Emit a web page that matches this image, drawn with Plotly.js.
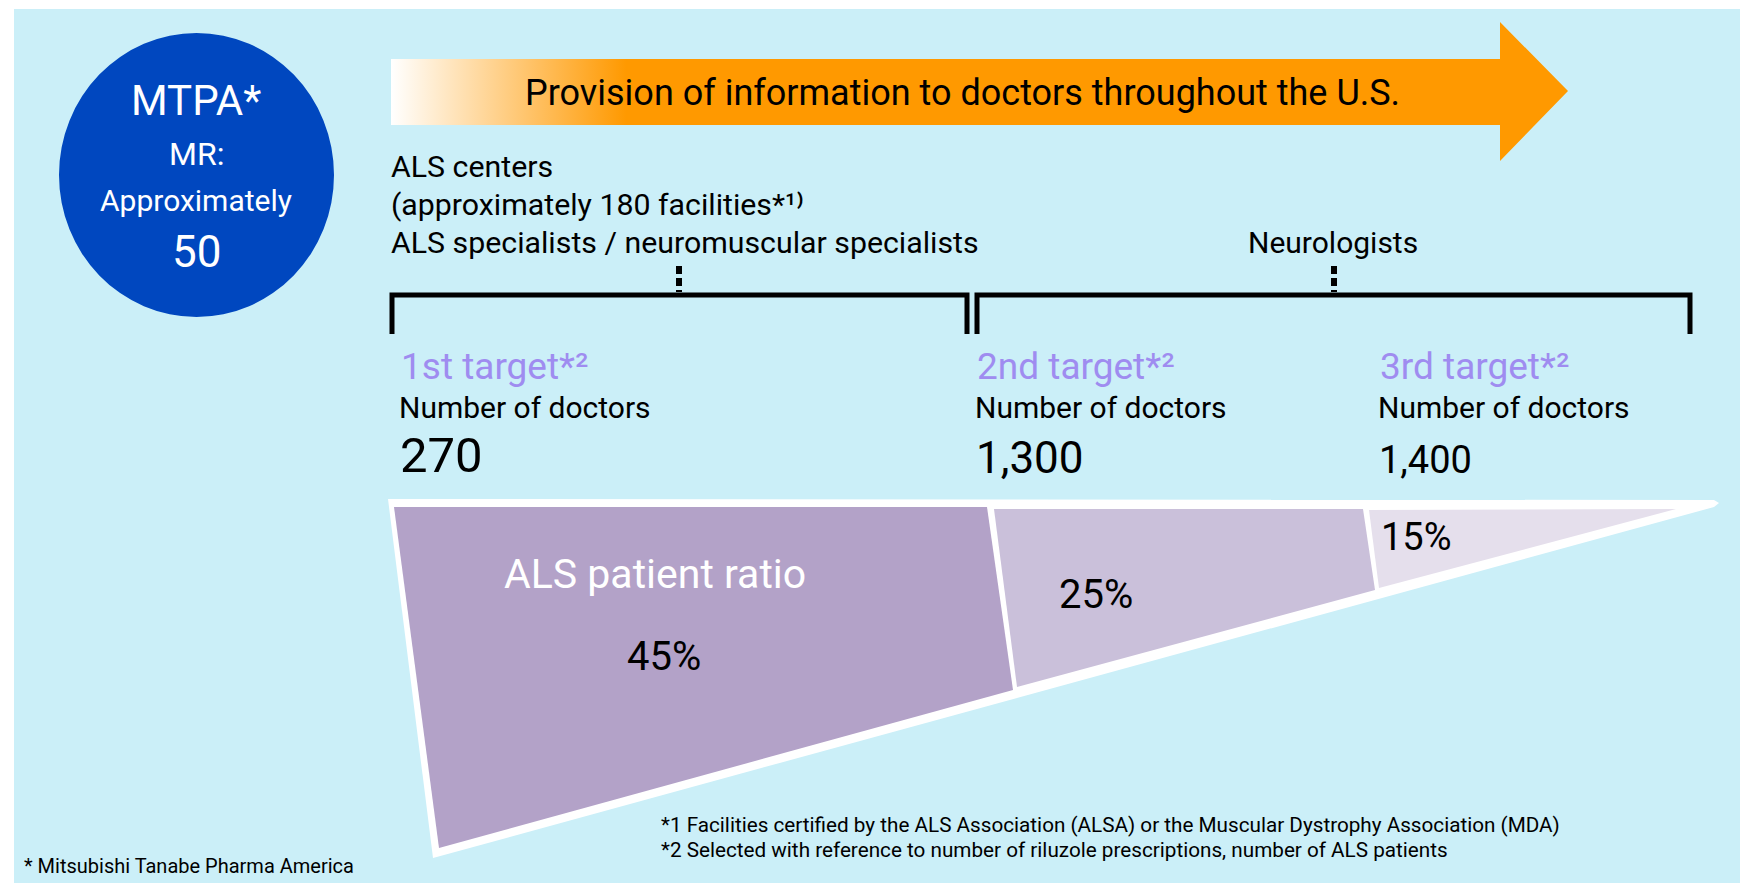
<!DOCTYPE html>
<html>
<head>
<meta charset="utf-8">
<script src="https://cdn.plot.ly/plotly-3.0.1.min.js"></script>
<style>html,body{margin:0;padding:0;background:#fff;}#chart{width:1740px;height:883px;}</style>
</head>
<body>
<div id="chart"></div>
<script>
// ---------------- data ----------------
const orgName = 'MTPA*';
const orgLines = ['MR:', 'Approximately'];
const mrCount = '50';
const arrowText = 'Provision of information to doctors throughout the U.S.';
const groupLeftLines = ['ALS centers', '(approximately 180 facilities*¹⁾', 'ALS specialists / neuromuscular specialists'];
const groupRightLabel = 'Neurologists';
const targets = ['1st target', '2nd target', '3rd target'];
const doctorLabel = 'Number of doctors';
const doctorCounts = ['270', '1,300', '1,400'];
const ratioTitle = 'ALS patient ratio';
const patientRatio = [45, 25, 15];
const footnotes = [
  '*1 Facilities certified by the ALS Association (ALSA) or the Muscular Dystrophy Association (MDA)',
  '*2 Selected with reference to number of riluzole prescriptions, number of ALS patients'
];
const orgNote = '* Mitsubishi Tanabe Pharma America';

// ---------------- layout geometry ----------------
const FONT = 'Roboto, "Liberation Sans", Arial, sans-serif';
const segColors = ['#b3a2c8', '#cac0da', '#e5dfec'];
const segPolys = [
  [[394,507],[987,507],[1013,690],[439,848]],
  [[994,509],[1363,509],[1375,590],[1017,687]],
  [[1369,510],[1676,509],[1379,588]]
];
const targetX = [400, 976, 1379];
const countSizes = [49, 44, 38];
const pctPos = [[664,656,40],[1096,594,40],[1416,537,38]];

const traces = [];
// arrow with gradient
traces.push({
  type: 'scatter', mode: 'lines',
  x: [391,1500,1500,1568,1500,1500,391,391],
  y: [59,59,22,91,161,125,125,59],
  fill: 'toself', line: {width: 0, color: 'rgba(0,0,0,0)'},
  fillgradient: {type: 'horizontal', start: 391, stop: 1568,
    colorscale: [[0,'#ffffff'],[0.2,'#ff9900'],[1,'#ff9900']]},
  hoverinfo: 'skip', showlegend: false
});
// outer white funnel
traces.push({
  type: 'scatter', mode: 'lines',
  x: [388,1714,1719,1714,433,388],
  y: [499,500,503,507,858,499],
  fill: 'toself', fillcolor: '#ffffff', line: {width: 0, color: '#ffffff'},
  hoverinfo: 'skip', showlegend: false
});
// segments
patientRatio.forEach((v, i) => {
  const p = segPolys[i].concat([segPolys[i][0]]);
  traces.push({
    type: 'scatter', mode: 'lines', name: v + '%',
    x: p.map(q => q[0]), y: p.map(q => q[1]),
    fill: 'toself', fillcolor: segColors[i], line: {width: 0, color: segColors[i]},
    hoverinfo: 'skip', showlegend: false
  });
});

const shapes = [
  {type: 'rect', layer: 'below', x0: 14, x1: 1740, y0: 9, y1: 883, fillcolor: '#cbeff8', line: {width: 0}},
  {type: 'circle', layer: 'below', x0: 59, x1: 334, y0: 33, y1: 317, fillcolor: '#0047bf', line: {width: 0}},
  {type: 'path', path: 'M392,334 L392,295 L967,295 L967,334', line: {color: '#000', width: 5}},
  {type: 'path', path: 'M977,334 L977,295 L1690,295 L1690,334', line: {color: '#000', width: 5}},
  {type: 'line', x0: 679, x1: 679, y0: 266, y1: 292, line: {color: '#000', width: 6, dash: '8px,4px'}},
  {type: 'line', x0: 1334, x1: 1334, y0: 266, y1: 292, line: {color: '#000', width: 6, dash: '8px,4px'}}
];

const ann = [];
function txt(text, x, y, size, color, xanchor) {
  ann.push({text: text, x: x, y: y, xref: 'x', yref: 'y', showarrow: false,
    xanchor: xanchor || 'left', yanchor: 'middle', borderpad: 0, borderwidth: 0,
    font: {family: FONT, size: size, color: color || '#000'}});
}
// circle
txt(orgName, 196, 100, 42, '#fff', 'center');
txt(orgLines[0], 196, 154, 32, '#fff', 'center');
txt(orgLines[1], 196, 200, 30, '#fff', 'center');
txt(mrCount, 196, 252, 44, '#fff', 'center');
// arrow text
txt(arrowText, 962, 93, 36, '#000', 'center');
// group labels
const gy = [166, 204, 242];
groupLeftLines.forEach((t, i) => txt(t, 391, gy[i], 30.3));
txt(groupRightLabel, 1333, 242, 30, '#000', 'center');
// targets
targets.forEach((t, i) => {
  txt(t + '*²', targetX[i] + 1, 366, 37, '#9f8cf0');
  txt(doctorLabel, targetX[i] - 1, 407, 30);
  txt(doctorCounts[i], targetX[i], 473 - 0.35 * countSizes[i], countSizes[i]);
});
// ratio
txt(ratioTitle, 655, 574, 41, '#fff', 'center');
patientRatio.forEach((v, i) => txt(v + '%', pctPos[i][0], pctPos[i][1], pctPos[i][2], '#000', 'center'));
// footnotes
txt(footnotes[0], 661, 825, 20.7);
txt(footnotes[1], 661, 850, 20.7);
txt(orgNote, 24, 866, 20);

const layout = {
  width: 1740, height: 883,
  margin: {l: 0, r: 0, t: 0, b: 0, pad: 0},
  paper_bgcolor: '#ffffff', plot_bgcolor: 'rgba(0,0,0,0)',
  xaxis: {range: [0, 1740], visible: false, fixedrange: true},
  yaxis: {range: [883, 0], visible: false, fixedrange: true},
  showlegend: false, hovermode: false,
  shapes: shapes, annotations: ann
};
Plotly.newPlot('chart', traces, layout, {displayModeBar: false, staticPlot: true});
</script>
</body>
</html>
